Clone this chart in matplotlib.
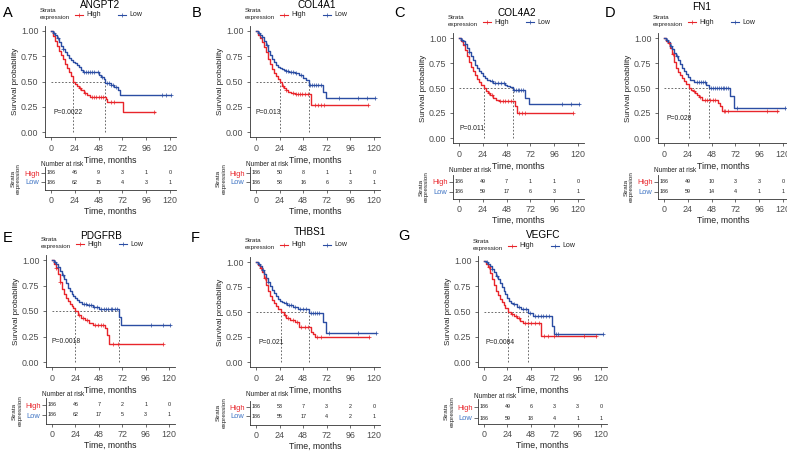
import numpy as np
import matplotlib.pyplot as plt
from matplotlib.lines import Line2D

plt.rcParams['font.family'] = ['Liberation Sans', 'DejaVu Sans']

W, H = 787, 451

# ---------------- data ----------------
genes = ['ANGPT2', 'COL4A1', 'COL4A2', 'FN1', 'PDGFRB', 'THBS1', 'VEGFC']
letters = ['A', 'B', 'C', 'D', 'E', 'F', 'G']
p_values = ['P=0.0022', 'P=0.013', 'P=0.011', 'P=0.028', 'P=0.0018', 'P=0.021', 'P=0.0084']
risk_times = [0, 24, 48, 72, 96, 120]

# ANGPT2
angpt2_high_t = [0, 2, 4, 6, 8, 10, 12, 14, 16, 18, 20, 22, 24, 26, 28, 30, 33, 36, 39, 55, 56, 72, 73, 105]
angpt2_high_s = [1, .95, .90, .85, .80, .76, .72, .67, .63, .59, .55, .50, .48, .46, .44, .42, .39, .37, .35, .33, .30, .30, .20, .20]
angpt2_high_c = [29, 34, 41, 43, 45, 48, 50, 52, 61, 64, 104]
angpt2_low_t = [0, 2, 4, 6, 8, 10, 12, 14, 16, 18, 20, 22, 24, 26, 28, 30, 32, 45, 48, 50, 53, 54, 60, 64, 68, 70, 121]
angpt2_low_s = [1, .98, .96, .93, .89, .85, .82, .79, .76, .73, .71, .69, .68, .66, .64, .61, .59, .59, .56, .54, .52, .49, .47, .45, .42, .37, .37]
angpt2_low_c = [3, 7, 12, 33, 35, 37, 39, 41, 43, 47, 51, 56, 58, 61, 63, 66, 112, 116, 121]
angpt2_risk_high = [186, 46, 9, 3, 1, 0]
angpt2_risk_low = [186, 62, 15, 4, 3, 1]

# COL4A1
col4a1_high_t = [0, 2, 4, 6, 8, 10, 12, 14, 16, 18, 20, 22, 24, 26, 28, 30, 33, 36, 40, 56, 114]
col4a1_high_s = [1, .96, .93, .89, .84, .79, .72, .67, .62, .58, .55, .52, .50, .46, .44, .42, .40, .39, .38, .27, .27]
col4a1_high_c = [27, 31, 38, 41, 43, 45, 47, 50, 53, 60, 63, 66, 69, 114]
col4a1_low_t = [0, 2, 4, 6, 8, 10, 12, 14, 16, 18, 20, 22, 24, 26, 28, 30, 34, 40, 44, 48, 51, 54, 68, 71, 121]
col4a1_low_s = [1, .98, .96, .94, .90, .86, .80, .76, .72, .69, .66, .64, .63, .62, .61, .60, .59, .58, .56, .53, .51, .47, .40, .34, .34]
col4a1_low_c = [3, 6, 11, 31, 33, 36, 38, 41, 46, 55, 57, 59, 61, 63, 66, 84, 104, 113, 121]
col4a1_risk_high = [186, 50, 8, 1, 1, 0]
col4a1_risk_low = [186, 58, 16, 6, 3, 1]

# COL4A2
col4a2_high_t = [0, 2, 4, 6, 8, 10, 12, 14, 16, 18, 20, 22, 25, 27, 29, 31, 34, 37, 40, 56, 58, 115]
col4a2_high_s = [1, .97, .93, .88, .82, .76, .71, .67, .63, .59, .56, .53, .50, .47, .45, .43, .40, .38, .37, .32, .25, .25]
col4a2_high_c = [30, 33, 41, 44, 46, 49, 52, 61, 64, 67, 115]
col4a2_low_t = [0, 2, 4, 6, 8, 10, 12, 14, 16, 18, 20, 22, 24, 26, 28, 31, 34, 46, 48, 51, 54, 67, 71, 121]
col4a2_low_s = [1, .98, .97, .94, .90, .86, .82, .78, .73, .70, .67, .65, .62, .60, .58, .57, .55, .53, .52, .51, .48, .40, .34, .34]
col4a2_low_c = [3, 6, 10, 33, 36, 39, 42, 45, 55, 57, 59, 61, 63, 65, 104, 113, 121]
col4a2_risk_high = [186, 49, 7, 1, 1, 0]
col4a2_risk_low = [186, 59, 17, 6, 3, 1]

# FN1
fn1_high_t = [0, 2, 4, 6, 8, 10, 12, 14, 16, 18, 20, 22, 25, 27, 29, 31, 33, 35, 38, 54, 56, 58, 115]
fn1_high_s = [1, .97, .95, .90, .84, .76, .70, .66, .63, .60, .57, .54, .50, .48, .47, .45, .43, .41, .38, .35, .32, .27, .27]
fn1_high_c = [5, 9, 30, 36, 41, 43, 46, 49, 51, 60, 62, 65, 104, 114]
fn1_low_t = [0, 2, 4, 6, 8, 10, 12, 14, 16, 18, 20, 22, 24, 26, 30, 42, 45, 67, 71, 122]
fn1_low_s = [1, .98, .96, .92, .89, .85, .82, .78, .74, .70, .67, .64, .61, .58, .56, .53, .50, .42, .30, .30]
fn1_low_c = [3, 7, 13, 33, 35, 37, 39, 41, 47, 49, 51, 53, 55, 57, 59, 61, 63, 65, 74, 122]
fn1_risk_high = [186, 49, 10, 3, 3, 0]
fn1_risk_low = [186, 59, 14, 4, 1, 1]

# PDGFRB
pdgfrb_high_t = [0, 2, 4, 6, 8, 10, 12, 14, 16, 18, 20, 22, 24, 27, 30, 34, 38, 42, 54, 56, 58, 114]
pdgfrb_high_s = [1, .96, .92, .86, .78, .72, .67, .63, .60, .57, .55, .53, .50, .46, .43, .41, .38, .36, .33, .26, .18, .18]
pdgfrb_high_c = [4, 8, 28, 32, 36, 44, 47, 50, 52, 63, 68, 114]
pdgfrb_low_t = [0, 2, 4, 6, 8, 10, 12, 14, 16, 18, 20, 22, 24, 26, 28, 31, 36, 42, 48, 69, 71, 121]
pdgfrb_low_s = [1, .98, .96, .93, .89, .85, .81, .77, .73, .70, .67, .65, .63, .61, .59, .57, .56, .54, .52, .44, .36, .36]
pdgfrb_low_c = [3, 6, 11, 33, 35, 38, 40, 43, 46, 50, 53, 55, 57, 60, 62, 65, 67, 102, 114, 121]
pdgfrb_risk_high = [186, 46, 7, 2, 1, 0]
pdgfrb_risk_low = [186, 62, 17, 5, 3, 1]

# THBS1
thbs1_high_t = [0, 2, 4, 6, 8, 10, 12, 14, 16, 18, 20, 22, 25, 28, 31, 35, 40, 44, 56, 58, 60, 115]
thbs1_high_s = [1, .97, .94, .90, .84, .77, .71, .66, .62, .59, .56, .53, .50, .47, .44, .42, .40, .35, .30, .28, .25, .25]
thbs1_high_c = [5, 9, 29, 33, 38, 42, 46, 50, 53, 62, 66, 115]
thbs1_low_t = [0, 2, 4, 6, 8, 10, 12, 14, 16, 18, 20, 22, 24, 26, 28, 32, 38, 43, 54, 68, 71, 122]
thbs1_low_s = [1, .98, .96, .92, .88, .84, .80, .76, .72, .69, .66, .63, .61, .60, .59, .57, .55, .53, .49, .40, .29, .29]
thbs1_low_c = [3, 7, 12, 30, 34, 36, 40, 45, 48, 51, 56, 58, 60, 62, 64, 74, 104, 122]
thbs1_risk_high = [186, 53, 7, 3, 2, 0]
thbs1_risk_low = [186, 55, 17, 4, 2, 1]

# VEGFC
vegfc_high_t = [0, 2, 4, 6, 8, 10, 12, 14, 16, 18, 20, 22, 25, 28, 31, 34, 37, 40, 58, 115]
vegfc_high_s = [1, .97, .94, .88, .82, .76, .70, .66, .62, .59, .56, .53, .50, .48, .46, .44, .41, .39, .26, .26]
vegfc_high_c = [5, 29, 33, 36, 42, 45, 48, 52, 56, 62, 66, 72, 103, 115]
vegfc_low_t = [0, 2, 4, 6, 8, 10, 12, 14, 16, 18, 20, 22, 24, 26, 28, 30, 34, 38, 45, 50, 70, 72, 122]
vegfc_low_s = [1, .99, .97, .95, .92, .89, .85, .82, .78, .74, .70, .67, .63, .60, .58, .57, .54, .52, .49, .46, .36, .28, .28]
vegfc_low_c = [3, 8, 13, 31, 36, 40, 43, 47, 52, 55, 58, 61, 64, 67, 74, 76, 122]
vegfc_risk_high = [186, 49, 6, 3, 3, 0]
vegfc_risk_low = [186, 59, 18, 4, 1, 1]

curves = [
    (angpt2_high_t, angpt2_high_s, angpt2_high_c, angpt2_low_t, angpt2_low_s, angpt2_low_c, angpt2_risk_high, angpt2_risk_low),
    (col4a1_high_t, col4a1_high_s, col4a1_high_c, col4a1_low_t, col4a1_low_s, col4a1_low_c, col4a1_risk_high, col4a1_risk_low),
    (col4a2_high_t, col4a2_high_s, col4a2_high_c, col4a2_low_t, col4a2_low_s, col4a2_low_c, col4a2_risk_high, col4a2_risk_low),
    (fn1_high_t, fn1_high_s, fn1_high_c, fn1_low_t, fn1_low_s, fn1_low_c, fn1_risk_high, fn1_risk_low),
    (pdgfrb_high_t, pdgfrb_high_s, pdgfrb_high_c, pdgfrb_low_t, pdgfrb_low_s, pdgfrb_low_c, pdgfrb_risk_high, pdgfrb_risk_low),
    (thbs1_high_t, thbs1_high_s, thbs1_high_c, thbs1_low_t, thbs1_low_s, thbs1_low_c, thbs1_risk_high, thbs1_risk_low),
    (vegfc_high_t, vegfc_high_s, vegfc_high_c, vegfc_low_t, vegfc_low_s, vegfc_low_c, vegfc_risk_high, vegfc_risk_low),
]

# ---------------- layout (pixels of the 787x451 picture) ----------------
# x of month 0, x of month 120, y of S=1, y of S=0, title x, title baseline y, legend y,
# "Number at risk" y, High row y, Low row y, table axis y, p-value x (months), p-value y
layout = [
    (51, 170, 31, 132, 100, 8, 15, 165, 173, 182, 190, 3, 0.19),
    (256, 374, 31, 132, 317, 8, 15, 165, 173, 182, 190, 0, 0.19),
    (459, 578, 38, 138, 517, 16, 22, 171, 182, 192, 199, 1, 0.10),
    (664, 783, 38, 138, 702, 10, 22, 170, 182, 192, 199, 3, 0.20),
    (52, 169, 260, 362, 101, 239, 244, 394, 405, 415, 424, -1, 0.20),
    (256, 374, 262, 362, 310, 235, 245, 394, 407, 416, 425, 3, 0.19),
    (484, 601, 261, 362, 543, 238, 246, 397, 407, 418, 424, 2, 0.19),
]
letter_pos = [(3, 13), (192, 13), (394, 13), (605, 13), (3, 238), (191, 238), (398, 236)]

RED = '#E8252B'
BLUE = '#2B4DA3'
LBLUE = '#3F74C4'
AX = '#333333'
TK = '#4D4D4D'

fig = plt.figure(figsize=(W / 100, H / 100), dpi=100)


def fx(x):
    return x / W


def fy(y):
    return 1 - y / H


def surv_at(t, s, tc):
    idx = np.searchsorted(np.asarray(t), np.asarray(tc), side='right') - 1
    return np.asarray(s)[idx]


def median_time(t, s):
    s = np.asarray(s)
    return np.asarray(t)[np.argmax(s <= 0.5)]


def style_axis(ax):
    for side in ['top', 'right']:
        ax.spines[side].set_visible(False)
    for side in ['left', 'bottom']:
        ax.spines[side].set_color(AX)
        ax.spines[side].set_linewidth(0.6)
    ax.tick_params(direction='out', length=2.2, width=0.5, color=AX, labelcolor=TK)


for i, lay in enumerate(layout):
    x0, x120, y1, y0, tx, ty, ly, nary, rhy, rly, rax, pvx, pvy = lay
    ht, hs, hc, lt, ls_, lc, rh, rl = curves[i]
    ppm = (x120 - x0) / 120
    left = x0 - 6 * ppm
    width = 132 * ppm
    ppu = y0 - y1
    top = y1 - 0.05 * ppu
    bottom = y0 + 0.05 * ppu

    # --- survival plot
    ax = fig.add_axes([fx(left), fy(bottom), width / W, (bottom - top) / H])
    ax.set_xlim(-6, 126)
    ax.set_ylim(-0.05, 1.05)
    style_axis(ax)
    ax.set_xticks(risk_times)
    ax.set_yticks([0, 0.25, 0.5, 0.75, 1.0])
    ax.set_yticklabels(['0.00', '0.25', '0.50', '0.75', '1.00'])
    ax.tick_params(labelsize=6.4, pad=2.5)
    ax.set_xlabel('Time, months', fontsize=6.3, labelpad=2.5, color='#222222')
    ax.set_ylabel('Survival probability', fontsize=5.8, labelpad=1.8, color='#222222')

    mh = median_time(ht, hs)
    ml = median_time(lt, ls_)
    dash = dict(color='#333333', lw=0.5, ls=(0, (2.5, 2.5)), zorder=1)
    ax.plot([0, max(mh, ml)], [0.5, 0.5], **dash)
    ax.plot([mh, mh], [0, 0.5], **dash)
    ax.plot([ml, ml], [0, 0.5], **dash)

    ax.step(ht, hs, where='post', color=RED, lw=1.0, zorder=3)
    ax.step(lt, ls_, where='post', color=BLUE, lw=1.0, zorder=3)
    ax.plot(hc, surv_at(ht, hs, hc), '+', color=RED, ms=2.2, mew=0.5, zorder=4)
    ax.plot(lc, surv_at(lt, ls_, lc), '+', color=BLUE, ms=2.2, mew=0.5, zorder=4)
    ax.text(pvx, pvy, p_values[i], fontsize=4.9, color='#222222', va='center', ha='left')

    # --- title, letter, legend
    fig.text(fx(tx), fy(ty), genes[i], fontsize=7.2, ha='center', va='baseline')
    lx, lyy = letter_pos[i]
    fig.text(fx(lx), fy(lyy), letters[i], fontsize=10.5, ha='left', va='center')
    fig.text(fx(x0 - 11), fy(ly - 1), 'Strata\nexpression', fontsize=4.5, ha='left', va='center',
             linespacing=1.4, color='#222222')
    for k0, col, lab in [(24, RED, 'High'), (67, BLUE, 'Low')]:
        fig.add_artist(Line2D([fx(x0 + k0), fx(x0 + k0 + 8)], [fy(ly), fy(ly)], color=col, lw=0.8,
                              transform=fig.transFigure))
        fig.add_artist(Line2D([fx(x0 + k0 + 4)], [fy(ly)], color=col, marker='+', ms=2.2, mew=0.5,
                              transform=fig.transFigure))
        fig.text(fx(x0 + k0 + 11), fy(ly), lab, fontsize=5.0, ha='left', va='center', color='#222222')

    # --- risk table
    s = rly - rhy
    rtop = rhy - 0.7 * s
    axr = fig.add_axes([fx(left), fy(rax), width / W, (rax - rtop) / H])
    axr.set_xlim(-6, 126)
    axr.set_ylim(1 - (rax - rly) / s, 2.7)
    style_axis(axr)
    axr.set_xticks(risk_times)
    axr.tick_params(axis='x', labelsize=6.4, pad=1.8)
    axr.set_yticks([1, 2])
    axr.set_yticklabels(['Low', 'High'])
    axr.tick_params(axis='y', labelsize=5.4, pad=1, length=3)
    axr.get_yticklabels()[0].set_color(LBLUE)
    axr.get_yticklabels()[1].set_color(RED)
    axr.set_xlabel('Time, months', fontsize=6.3, labelpad=1.5, color='#222222')
    axr.set_ylabel('Strata\nexpression', fontsize=4.6, labelpad=2, color='#222222', linespacing=1.1)
    for tt, a, b in zip(risk_times, rh, rl):
        axr.text(tt, 2, str(a), fontsize=3.9, ha='center', va='center', color='#222222')
        axr.text(tt, 1, str(b), fontsize=3.9, ha='center', va='center', color='#222222')
    fig.text(fx(x0 - 10), fy(nary), 'Number at risk', fontsize=4.7, ha='left', va='center', color='#222222')

fig.savefig('out.png', dpi=100)
